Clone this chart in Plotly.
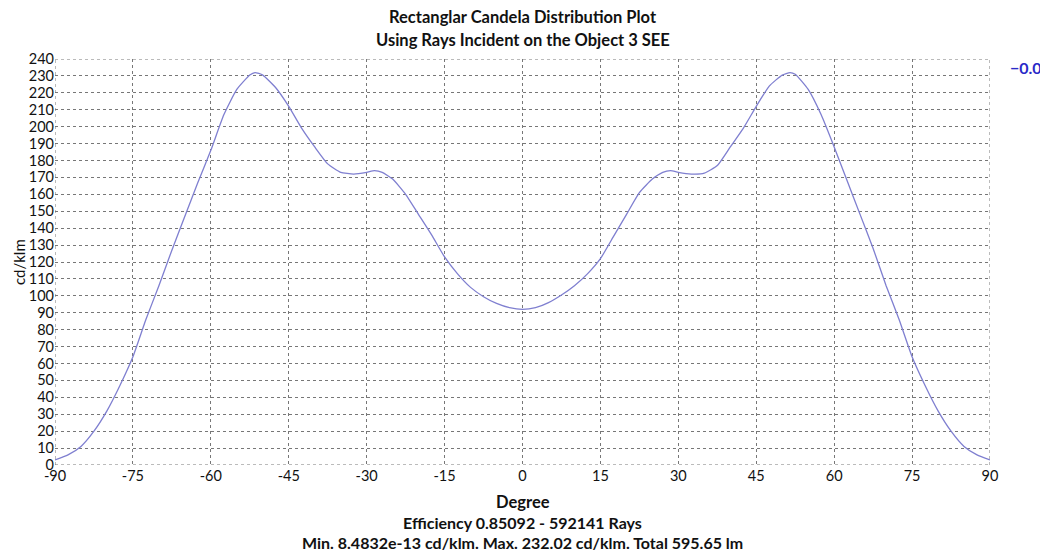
import plotly.graph_objects as go

degrees = [-90, -87.5, -85, -82.5, -80, -77.5, -75, -72.5, -70, -67.5, -65, -62.5, -60,
           -57.5, -55, -52.5, -51.5, -50, -47.5, -45, -42.5, -40, -37.5, -35, -32.5,
           -30, -28.5, -27, -25, -22.5, -20, -17.5, -15, -12.5, -10, -7.5, -5, -2.5,
           0, 2.5, 5, 7.5, 10, 12.5, 15, 17.5, 20, 22.5, 25, 27, 28.5, 30, 32.5, 35,
           37.5, 40, 42.5, 45, 47.5, 50, 51.5, 52.5, 55, 57.5, 60, 62.5, 65, 67.5, 70,
           72.5, 75, 77.5, 80, 82.5, 85, 87.5, 90]
candela = [3, 6, 11, 20, 32, 47, 64, 86, 106, 127, 147, 167, 186,
           207, 222, 230.5, 232, 230.5, 223, 212, 199, 188, 178, 173, 172,
           173, 174, 173, 169, 160, 148, 136, 123, 113, 105, 99.5, 95.5, 93,
           92, 93, 96, 100.5, 106, 113, 122, 135, 148, 161, 169, 173, 174, 173, 172, 172.5,
           177, 188, 199, 212, 224, 230.5, 232, 231, 222, 207, 188, 168, 148, 128, 106,
           86, 64, 47, 32, 20, 11, 6, 3]

x_ticks = list(range(-90, 91, 15))
y_ticks = list(range(0, 241, 10))

title_lines = ["Rectanglar Candela Distribution Plot", "Using Rays Incident on the Object 3 SEE"]
x_title = "Degree"
y_title = "cd/klm"
footer_lines = ["Efficiency 0.85092 - 592141 Rays",
                "Min. 8.4832e-13 cd/klm. Max. 232.02 cd/klm. Total 595.65 lm"]
series_name = "0.0"

FONT = "Lato"
TXT = "#111111"
fig = go.Figure()
fig.add_trace(go.Scatter(x=degrees, y=candela, mode="lines", name=series_name,
                         line=dict(color="#7f7fd0", width=1.3, shape="spline", smoothing=0.5),
                         showlegend=False))

grid = dict(showgrid=True, gridcolor="#777777", griddash="dot", gridwidth=1,
            zeroline=False, showline=False, ticks="", automargin=False,
            tickfont=dict(family=FONT, size=14.5, color=TXT))

# page body has an 8px margin, so the figure is 8px smaller and margins offset
fig.update_layout(
    width=1040, height=549,
    margin=dict(l=47, r=58, t=51, b=92, autoexpand=False),
    paper_bgcolor="white", plot_bgcolor="white",
    xaxis=dict(range=[-90, 90], tickvals=x_ticks, ticktext=[str(v) for v in x_ticks], **grid),
    yaxis=dict(range=[0, 240], tickvals=y_ticks, ticktext=[str(v) for v in y_ticks], **grid),
    showlegend=False,
)

for xs, ys in [((-90, 90), (240, 240)), ((-90, 90), (0, 0)), ((-90, -90), (0, 240)), ((90, 90), (0, 240))]:
    fig.add_shape(type="line", x0=xs[0], x1=xs[1], y0=ys[0], y1=ys[1], xref="x", yref="y",
                  line=dict(color="#777777", width=1, dash="dot"), layer="below")

def note(text, x, y, size, color=TXT, xanchor="center", bold=True, angle=0):
    fig.add_annotation(text=("<b>" + text + "</b>") if bold else text, xref="paper", yref="paper",
                       x=x, y=y, xanchor=xanchor, yanchor="middle", showarrow=False, textangle=angle,
                       font=dict(family=FONT, size=size, color=color))

note(title_lines[0], 0.5, 1.1034, 16.5)
note(title_lines[1], 0.5, 1.0468, 16.5)
note(x_title, 0.5, -0.0911, 16.5)
note(footer_lines[0], 0.5, -0.1404, 16)
note(footer_lines[1], 0.5, -0.1897, 16)
note(y_title, -0.0385, 0.5, 15, bold=False, angle=-90)
note("\u2212" + series_name, 1.0193, 0.980, 16, color="#2a2ac8", xanchor="left")

fig.write_html("out.html")
